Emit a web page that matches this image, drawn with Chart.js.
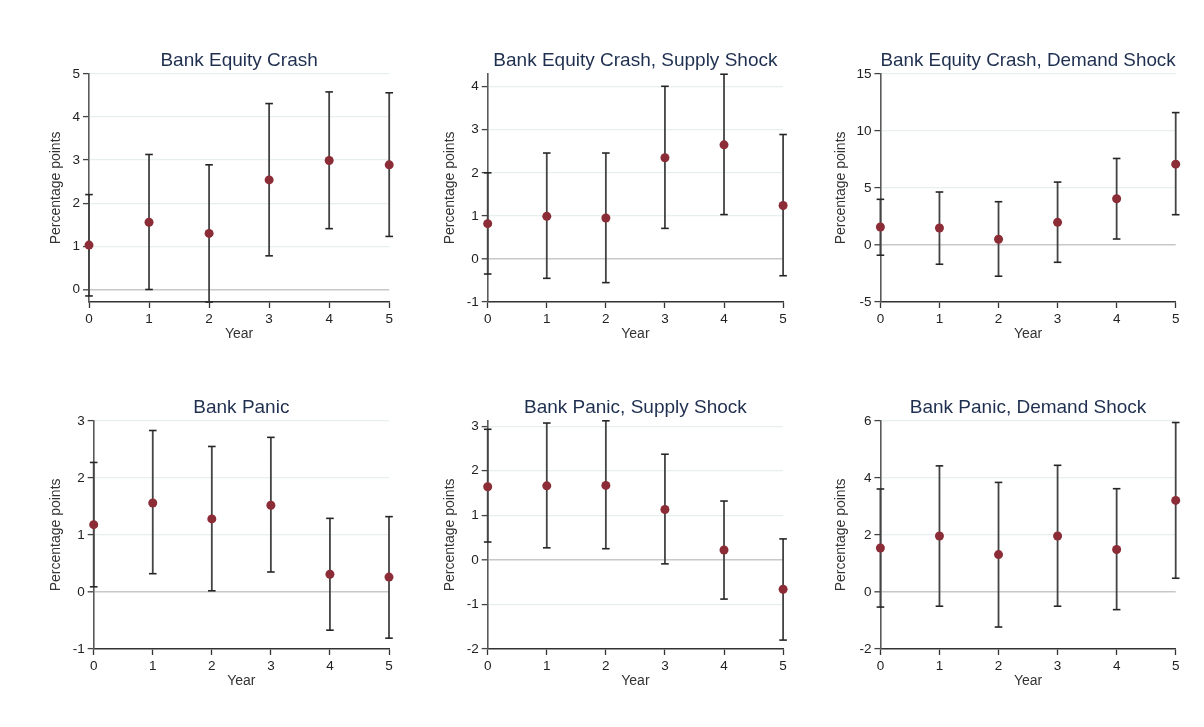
<!DOCTYPE html>
<html>
<head>
<meta charset="utf-8">
<script src="https://cdn.jsdelivr.net/npm/chart.js@4"></script>
<style>
  body { margin: 0; background: #fff; width: 1204px; height: 727px; overflow: hidden; }
  canvas { position: absolute; }
</style>
</head>
<body>
<canvas id="c1"></canvas>
<canvas id="c2"></canvas>
<canvas id="c3"></canvas>
<canvas id="c4"></canvas>
<canvas id="c5"></canvas>
<canvas id="c6"></canvas>
<script>
// horizon in years
const years = [0, 1, 2, 3, 4, 5];

// Bank Equity Crash
const crashEst = [1.03, 1.56, 1.30, 2.54, 2.99, 2.89];
const crashLo  = [-0.15, 0.00, -0.29, 0.78, 1.41, 1.23];
const crashHi  = [2.20, 3.13, 2.89, 4.31, 4.58, 4.56];

// Bank Equity Crash, Supply Shock
const crashSupEst = [0.82, 0.99, 0.95, 2.35, 2.65, 1.24];
const crashSupLo  = [-0.35, -0.45, -0.55, 0.71, 1.03, -0.39];
const crashSupHi  = [2.00, 2.46, 2.46, 4.01, 4.29, 2.89];

// Bank Equity Crash, Demand Shock
const crashDemEst = [1.57, 1.49, 0.50, 1.98, 4.05, 7.08];
const crashDemLo  = [-0.90, -1.69, -2.74, -1.52, 0.52, 2.65];
const crashDemHi  = [4.00, 4.64, 3.79, 5.51, 7.58, 11.60];

// Bank Panic
const panicEst = [1.18, 1.56, 1.28, 1.52, 0.31, 0.26];
const panicLo  = [0.09, 0.32, 0.02, 0.35, -0.67, -0.81];
const panicHi  = [2.27, 2.83, 2.55, 2.71, 1.29, 1.32];

// Bank Panic, Supply Shock
const panicSupEst = [1.64, 1.66, 1.67, 1.13, 0.22, -0.66];
const panicSupLo  = [0.40, 0.27, 0.25, -0.09, -0.88, -1.80];
const panicSupHi  = [2.93, 3.07, 3.12, 2.37, 1.32, 0.47];

// Bank Panic, Demand Shock
const panicDemEst = [1.54, 1.96, 1.31, 1.96, 1.49, 3.21];
const panicDemLo  = [-0.53, -0.50, -1.23, -0.50, -0.62, 0.48];
const panicDemHi  = [3.61, 4.42, 3.84, 4.44, 3.62, 5.94];

const yTitle = 'Percentage points';
const xTitle = 'Year';

function makePanel(canvasId, title, est, lo, hi, yRange, box) {
    const canvas = document.getElementById(canvasId);
    const plotW = box.right - box.left;
    const w = Math.ceil(plotW + 10);
    const h = 294;
    canvas.width = w;
    canvas.height = h;
    canvas.style.left = box.left + 'px';
    canvas.style.top = box.top + 'px';

    // points of the estimates
    const pts = years.map((yr, i) => ({ x: yr, y: est[i] }));

    // confidence bands as broken line segments (null breaks the line)
    let bars = [];
    years.forEach((yr, i) => {
        bars.push({ x: yr, y: lo[i] }, { x: yr, y: hi[i] }, { x: yr, y: null });
    });

    new Chart(canvas.getContext('2d'), {
        type: 'line',
        data: {
            datasets: [
                {
                    data: pts,
                    showLine: false,
                    pointRadius: 4.5,
                    pointBackgroundColor: '#8b2c36',
                    pointBorderWidth: 0,
                    clip: false
                },
                {
                    data: bars,
                    borderColor: '#444',
                    borderWidth: 1.8,
                    spanGaps: false,
                    pointStyle: 'line',
                    pointRadius: 3.8,
                    pointBorderColor: '#262626',
                    pointBorderWidth: 1.6,
                    clip: false
                }
            ]
        },
        options: {
            responsive: false,
            animation: false,
            events: [],
            layout: { padding: { left: 0, right: w - plotW, top: 0, bottom: 0 } },
            plugins: {
                legend: { display: false },
                tooltip: { enabled: false },
                title: {
                    display: true,
                    text: title,
                    fullSize: false,
                    color: '#1f2f4f',
                    font: { family: 'Liberation Sans, Arial, sans-serif', size: 19, weight: 'normal' },
                    padding: { top: 0, bottom: 2 }
                }
            },
            scales: {
                x: {
                    type: 'linear',
                    min: 0,
                    max: 5,
                    afterFit: (scale) => { scale.height = 41; },
                    ticks: {
                        stepSize: 1,
                        padding: 3,
                        color: '#222',
                        font: { family: 'Liberation Sans, Arial, sans-serif', size: 13.5 }
                    },
                    grid: {
                        drawOnChartArea: false,
                        tickLength: 6,
                        tickColor: '#333',
                        tickWidth: 1.3
                    },
                    border: { color: '#333', width: 1.5 },
                    title: {
                        display: true,
                        text: xTitle,
                        color: '#333',
                        padding: 0,
                        font: { family: 'Liberation Sans, Arial, sans-serif', size: 14 }
                    }
                },
                y: {
                    min: yRange.min,
                    max: yRange.max,
                    afterFit: (scale) => { scale.width = box.yWidth; },
                    ticks: {
                        stepSize: yRange.step,
                        includeBounds: false,
                        padding: 3,
                        color: '#222',
                        font: { family: 'Liberation Sans, Arial, sans-serif', size: 13.5 }
                    },
                    grid: {
                        color: (ctx) => ctx.tick && ctx.tick.value === 0 ? '#c8c8c8' : '#e8efef',
                        lineWidth: (ctx) => ctx.tick && ctx.tick.value === 0 ? 1.6 : 1.2,
                        tickLength: 6,
                        tickColor: '#444',
                        tickWidth: 1.3
                    },
                    border: { color: '#5a5a5a', width: 1.6 },
                    title: {
                        display: true,
                        text: yTitle,
                        color: '#333',
                        padding: 0,
                        font: { family: 'Liberation Sans, Arial, sans-serif', size: 14 }
                    }
                }
            }
        }
    });
}

makePanel('c1', 'Bank Equity Crash', crashEst, crashLo, crashHi,
    { min: -0.29, max: 5, step: 1 }, { left: 48.3, top: 49, right: 389.5, yWidth: 41 });
makePanel('c2', 'Bank Equity Crash, Supply Shock', crashSupEst, crashSupLo, crashSupHi,
    { min: -1, max: 4.3, step: 1 }, { left: 441.6, top: 49, right: 782.7, yWidth: 45.7 });
makePanel('c3', 'Bank Equity Crash, Demand Shock', crashDemEst, crashDemLo, crashDemHi,
    { min: -5, max: 15, step: 5 }, { left: 833.3, top: 49, right: 1176, yWidth: 47.4 });
makePanel('c4', 'Bank Panic', panicEst, panicLo, panicHi,
    { min: -1, max: 3, step: 1 }, { left: 48.3, top: 396.4, right: 389.3, yWidth: 45.7 });
makePanel('c5', 'Bank Panic, Supply Shock', panicSupEst, panicSupLo, panicSupHi,
    { min: -2, max: 3.12, step: 1 }, { left: 441.6, top: 396.4, right: 782.7, yWidth: 45.7 });
makePanel('c6', 'Bank Panic, Demand Shock', panicDemEst, panicDemLo, panicDemHi,
    { min: -2, max: 6, step: 2 }, { left: 833.3, top: 396.4, right: 1176, yWidth: 47.4 });
</script>
</body>
</html>
